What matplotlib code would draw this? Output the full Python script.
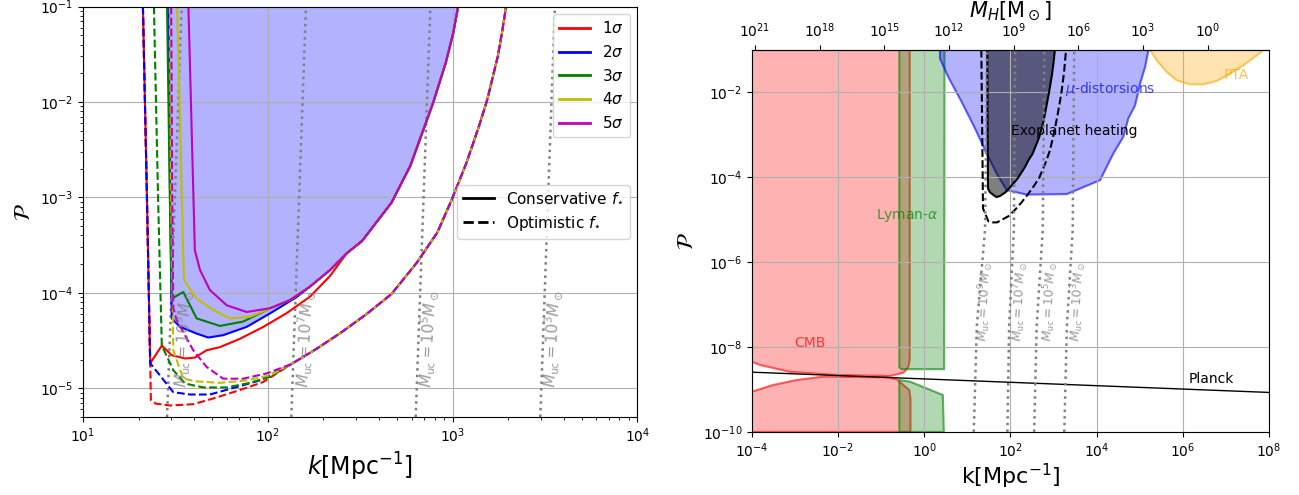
import numpy as np
import matplotlib
matplotlib.use("Agg")
import matplotlib.pyplot as plt
from matplotlib.lines import Line2D

# -----------------------------------------------------------------------------
# Left panel: sensitivity contours (k [Mpc^-1], P)
# -----------------------------------------------------------------------------
sigma_labels = [r"1$\sigma$", r"2$\sigma$", r"3$\sigma$", r"4$\sigma$", r"5$\sigma$"]
sigma_colors = ["r", "b", "g", "y", "m"]

# shared right branches
cons_right_k = [132, 169, 217, 267, 324, 467, 590, 785, 918, 1008, 1072]
cons_right_P = [8.4e-5, 1.16e-4, 1.73e-4, 2.59e-4, 3.5e-4, 8.8e-4, 2.13e-3, 9.8e-3, 2.56e-2, 5.26e-2, 0.1]
opt_right_k = [134, 183, 250, 342, 467, 638, 827, 991, 1189, 1390, 1542, 1757, 1850, 1950]
opt_right_P = [1.79e-5, 2.58e-5, 3.85e-5, 5.98e-5, 9.7e-5, 2.05e-4, 4.28e-4, 9.5e-4, 2.30e-3,
               5.57e-3, 1.06e-2, 3.0e-2, 5.26e-2, 0.1]

# conservative (solid) left parts
cons1_k = [21.1, 22.2, 23.1, 26.7, 30.2, 35.7, 40.3, 46.6, 55.1, 70.7, 94.6, 126, 169, 217]
cons1_P = [0.1, 9.4e-4, 1.83e-5, 2.8e-5, 2.22e-5, 2.05e-5, 2.1e-5, 2.5e-5, 2.7e-5, 3.3e-5,
           4.4e-5, 6.1e-5, 9.1e-5, 1.5e-4]
cons2_k = [29.0, 29.6, 30.2, 33.5, 41.2, 47.6, 57.4, 76.9, 103, 143]
cons2_P = [0.1, 1e-3, 5.4e-5, 4.4e-5, 3.74e-5, 3.4e-5, 3.6e-5, 4.4e-5, 6.1e-5, 9.0e-5]
cons3_k = [28.5, 29.5, 30.2, 34.9, 41.2, 55.1, 73.6, 103]
cons3_P = [0.1, 1e-3, 8.7e-5, 1.02e-4, 5.4e-5, 4.5e-5, 5.0e-5, 6.9e-5]
cons4_k = [32.3, 33.3, 34.6, 35.2, 41.2, 50.7, 62.4, 80.2, 107]
cons4_P = [0.1, 1.06e-2, 4.3e-4, 1.36e-4, 8.7e-5, 6.6e-5, 5.4e-5, 5.6e-5, 7.1e-5]
cons5_k = [37.2, 40.3, 43.0, 48.6, 60.0, 76.9, 103]
cons5_P = [0.1, 2.8e-4, 1.73e-4, 1.07e-4, 7.4e-5, 6.3e-5, 6.9e-5]

# optimistic (dashed) left parts
opt1_k = [21.1, 22.2, 23.1, 23.3, 24.8, 29.6, 39.4, 50.5, 70.8, 94.2]
opt1_P = [0.1, 9.4e-4, 1.83e-5, 7.5e-6, 6.9e-6, 6.6e-6, 6.8e-6, 7.8e-6, 9.6e-6, 1.16e-5]
opt2_k = [21.1, 22.2, 23.1, 30.8, 37.9, 48.6, 67.9, 90.8]
opt2_P = [0.1, 9.4e-4, 1.83e-5, 9.1e-6, 8.6e-6, 8.6e-6, 1.03e-5, 1.21e-5]
opt3_k = [24.2, 25.5, 26.7, 30.8, 35.7, 44.8, 60.0, 80.2, 103]
opt3_P = [0.1, 9.4e-4, 2.8e-5, 1.55e-5, 1.12e-5, 1.02e-5, 1.02e-5, 1.14e-5, 1.32e-5]
opt4_k = [29.5, 30.0, 30.8, 34.9, 41.2, 55.1, 76.9, 103]
opt4_P = [0.1, 1e-3, 2.5e-5, 1.26e-5, 1.18e-5, 1.14e-5, 1.21e-5, 1.37e-5]
opt5_k = [30.0, 30.4, 30.8, 32.1, 39.5, 46.7, 57.4, 73.6, 98.5]
opt5_P = [0.1, 1e-3, 7e-5, 5.2e-5, 2.5e-5, 1.67e-5, 1.26e-5, 1.26e-5, 1.43e-5]

cons_k = [cons1_k + cons_right_k[3:], cons2_k + cons_right_k[1:], cons3_k + cons_right_k,
          cons4_k + cons_right_k, cons5_k + cons_right_k]
cons_P = [cons1_P + cons_right_P[3:], cons2_P + cons_right_P[1:], cons3_P + cons_right_P,
          cons4_P + cons_right_P, cons5_P + cons_right_P]
opt_k = [o + opt_right_k for o in [opt1_k, opt2_k, opt3_k, opt4_k, opt5_k]]
opt_P = [o + opt_right_P for o in [opt1_P, opt2_P, opt3_P, opt4_P, opt5_P]]

# M_uc iso-lines, left panel (k at P = 5e-6 and P = 0.1)
muc_labels = [r"$M_{\rm uc}=10^9M_\odot$", r"$M_{\rm uc}=10^7M_\odot$",
              r"$M_{\rm uc}=10^5M_\odot$", r"$M_{\rm uc}=10^3M_\odot$"]
muc_left_P = [5e-6, 0.1]
muc_left_k = [[28.5, 34.2], [134, 161], [632, 759], [2986, 3580]]
muc_left_text_k = [34.9, 159, 739, 3445]
muc_left_text_P = 3.3e-5

# -----------------------------------------------------------------------------
# Right panel: constraints
# -----------------------------------------------------------------------------
cmb_up_k = [1e-4, 1e-4, 1.55e-4, 7.6e-4, 9.3e-3, 0.16, 0.33, 0.43, 0.46, 0.46]
cmb_up_P = [0.1, 4.5e-9, 3.76e-9, 2.6e-9, 2.19e-9, 2.07e-9, 2.48e-9, 3.4e-9, 5e-9, 0.1]
cmb_lo_k = [1e-4, 1e-4, 3.1e-4, 1.1e-3, 4.5e-3, 0.134, 0.23, 0.45, 0.48, 0.48]
cmb_lo_P = [1e-10, 8.85e-10, 1.27e-9, 1.67e-9, 2.0e-9, 1.93e-9, 1.73e-9, 9.7e-10, 6e-10, 1e-10]

lya_up_k = [0.264, 0.264, 0.30, 2.9, 2.95]
lya_up_P = [0.1, 3.3e-9, 3.0e-9, 3.0e-9, 0.1]
lya_lo_k = [0.264, 0.264, 0.47, 2.7, 2.85]
lya_lo_P = [1e-10, 1.67e-9, 1.52e-9, 7.4e-10, 1e-10]

mu_k = [2.32, 2.32, 3.61, 7.4, 15.1, 28.1, 48.0, 81.8, 238, 2018, 1.2e4, 2.44e4, 4.16e4,
        5.43e4, 7.8e4, 1.02e5, 1.33e5, 1.6e5]
mu_P = [0.1, 0.062, 0.0229, 5.9e-3, 1.4e-3, 3.6e-4, 1.22e-4, 4.94e-5, 3.9e-5, 3.98e-5,
        8.5e-5, 3.6e-4, 8.9e-4, 2.4e-3, 4.9e-3, 1.6e-2, 3.9e-2, 0.1]

pta_k = [1.73e5, 2.48e5, 4.23e5, 7.21e5, 1.47e6, 2.99e6, 6.12e6, 1.25e7, 2.54e7, 5.19e7, 7.6e7]
pta_P = [0.1, 0.0566, 0.0301, 0.0191, 0.0154, 0.0154, 0.0185, 0.0275, 0.0432, 0.0743, 0.1]

planck_k = [1e-4, 1e8]
planck_P = [2.55e-9, 8.5e-10]

# M_uc iso-lines, right panel
muc_right_P = [1e-10, 10**-7.5, 10**-5.25, 0.1]
muc_right_k = [[14.1, 16.6, 25.7, 28.8], [85.1, 93.3, 120, 129],
               [355, 407, 562, 617], [1778, 2042, 2786, 3020]]
muc_right_text_k = [24.7, 167, 828, 3565]
muc_right_text_P = 1.16e-7

# horizon mass  M_H = MH_NORM * (k / 1e6)^-2
MH_NORM = 14.0
mh_ticks = [1e21, 1e18, 1e15, 1e12, 1e9, 1e6, 1e3, 1e0]


def k_to_m(k):
    k = np.asarray(k, dtype=float)
    return MH_NORM * (np.clip(k, 1e-30, None) / 1e6) ** -2


def m_to_k(m):
    m = np.asarray(m, dtype=float)
    return 1e6 * np.sqrt(MH_NORM / np.clip(m, 1e-300, None))


fig = plt.figure(figsize=(12.99, 4.95), dpi=100)

# =============================================================================
# Left panel
# =============================================================================
ax = fig.add_axes([0.0639, 0.1576, 0.4267, 0.8291])
ax.set_xscale("log")
ax.set_yscale("log")

ax.fill(cons_k[1], cons_P[1], color="b", alpha=0.3, lw=0)

for kk, label in zip(muc_left_k, muc_labels):
    ax.plot(kk, muc_left_P, ls=":", color="gray", lw=1.8)
for kt, label in zip(muc_left_text_k, muc_labels):
    ax.text(kt, muc_left_text_P, label, rotation=87, color="gray", alpha=0.8,
            fontsize=11, ha="center", va="center", rotation_mode="anchor")

for i in range(5):
    ax.plot(cons_k[i], cons_P[i], color=sigma_colors[i], lw=1.5)
    ax.plot(opt_k[i], opt_P[i], color=sigma_colors[i], lw=1.5, ls="--")

ax.set_xlim(10, 1e4)
ax.set_ylim(5e-6, 0.1)
ax.grid(True, which="major")
ax.set_xlabel(r"$k$[Mpc$^{-1}$]", fontsize=17)
ax.set_ylabel(r"$\mathcal{P}$", fontsize=16)

h1 = [Line2D([], [], color=c, lw=2) for c in sigma_colors]
leg1 = ax.legend(h1, sigma_labels, loc="upper right", fontsize=11)
ax.add_artist(leg1)
h2 = [Line2D([], [], color="k", lw=2), Line2D([], [], color="k", lw=2, ls="--")]
ax.legend(h2, [r"Conservative $f_{\star}$", r"Optimistic $f_{\star}$"],
          loc="center right", fontsize=11)

# =============================================================================
# Right panel
# =============================================================================
ax2 = fig.add_axes([0.5788, 0.1275, 0.3981, 0.7719])
ax2.set_xscale("log")
ax2.set_yscale("log")

ax2.fill(cmb_up_k, cmb_up_P, facecolor=(1, 0, 0, 0.3), edgecolor=(1, 0, 0, 0.6), lw=1.5)
ax2.fill(cmb_lo_k, cmb_lo_P, facecolor=(1, 0, 0, 0.3), edgecolor=(1, 0, 0, 0.6), lw=1.5)
ax2.fill(lya_up_k, lya_up_P, facecolor=(0, 0.5, 0, 0.3), edgecolor=(0, 0.5, 0, 0.6), lw=1.5)
ax2.fill(lya_lo_k, lya_lo_P, facecolor=(0, 0.5, 0, 0.3), edgecolor=(0, 0.5, 0, 0.6), lw=1.5)
ax2.fill(mu_k, mu_P, facecolor=(0, 0, 1, 0.3), edgecolor=(0, 0, 1, 0.6), lw=1.5)
ax2.fill(pta_k, pta_P, facecolor=(1, 0.65, 0, 0.3), edgecolor=(1, 0.65, 0, 0.6), lw=1.5)

ax2.fill(cons_k[1], cons_P[1], color="k", alpha=0.5, lw=0)
ax2.plot(cons_k[1], cons_P[1], color="k", lw=1.5)
ax2.plot(opt_k[1], opt_P[1], color="k", lw=1.5, ls="--")

ax2.plot(planck_k, planck_P, color="k", lw=1)

for kk in muc_right_k:
    ax2.plot(kk, muc_right_P, ls=":", color="gray", lw=1.8)
for kt, label in zip(muc_right_text_k, muc_labels):
    ax2.text(kt, muc_right_text_P, label, rotation=87, color="gray", alpha=0.8,
             fontsize=9, ha="center", va="center", rotation_mode="anchor")

ax2.text(2.2e-3, 1.22e-8, "CMB", color="red", alpha=0.7, fontsize=10, ha="center", va="center")
ax2.text(0.41, 1.27e-5, r"Lyman-$\alpha$", color="green", alpha=0.7, fontsize=10,
         ha="center", va="center")
ax2.text(2.04e4, 1.22e-2, r"$\mu$-distorsions", color="blue", alpha=0.7, fontsize=10,
         ha="center", va="center")
ax2.text(3.03e3, 1.23e-3, "Exoplanet heating", color="k", fontsize=10, ha="center", va="center")
ax2.text(1.78e7, 2.6e-2, "PTA", color="orange", alpha=0.7, fontsize=10, ha="center", va="center")
ax2.text(4.66e6, 1.8e-9, "Planck", color="k", fontsize=10, ha="center", va="center")

ax2.set_xlim(1e-4, 1e8)
ax2.set_ylim(1e-10, 0.1)
ax2.set_xticks([10.0 ** e for e in range(-4, 9, 2)])
ax2.set_yticks([10.0 ** e for e in range(-10, -1, 2)])
ax2.minorticks_off()
ax2.grid(True, which="major")
ax2.set_xlabel(r"k[Mpc$^{-1}$]", fontsize=16, labelpad=1)
ax2.set_ylabel(r"$\mathcal{P}$", fontsize=16)

secax = ax2.secondary_xaxis("top", functions=(k_to_m, m_to_k))
secax.set_xticks(mh_ticks)
secax.minorticks_off()
secax.set_xlabel(r"$M_H[\mathrm{M}_\odot]$", fontsize=15, labelpad=3)

fig.savefig("out.png", dpi=100)
